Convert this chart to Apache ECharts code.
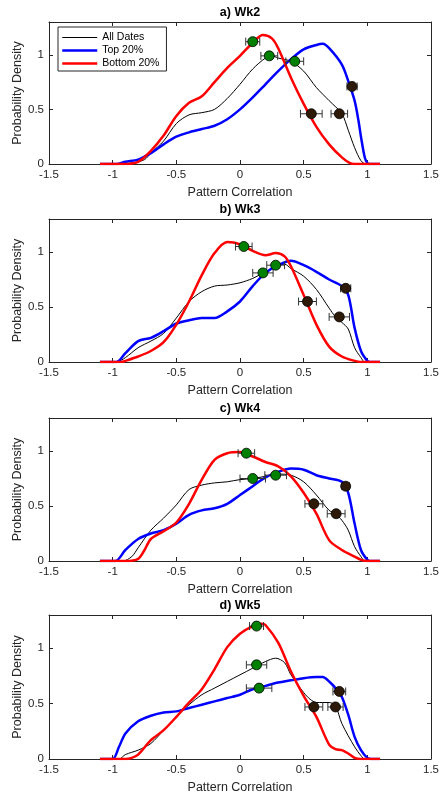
<!DOCTYPE html>
<html>
<head>
<meta charset="utf-8">
<script src="https://cdn.jsdelivr.net/npm/echarts@6/dist/echarts.min.js"></script>
<style>
html,body{margin:0;padding:0;background:#fff;}
#chart{width:441px;height:794px;}
</style>
</head>
<body>
<div id="chart"></div>
<script>
var titles = ['a) Wk2', 'b) Wk3', 'c) Wk4', 'd) Wk5'];
var names = ['All Dates', 'Top 20%', 'Bottom 20%'];

// density curves, [x, y]
var wk2All = [[-1.1,0],[-0.95,0],[-0.85,0.01],[-0.75,0.04],[-0.7,0.1],[-0.6,0.21],[-0.5,0.37],[-0.4,0.45],[-0.3,0.47],[-0.2,0.5],[-0.1,0.6],[0,0.73],[0.1,0.87],[0.2,0.97],[0.25,0.99],[0.3,0.97],[0.4,0.94],[0.5,0.85],[0.6,0.7],[0.7,0.58],[0.8,0.46],[0.85,0.31],[0.9,0.15],[0.95,0.03],[0.99,0],[1.1,0]];
var wk2Top = [[-1.1,0],[-0.97,0],[-0.9,0.02],[-0.8,0.04],[-0.7,0.1],[-0.6,0.18],[-0.5,0.25],[-0.4,0.29],[-0.3,0.32],[-0.2,0.35],[-0.1,0.41],[0,0.5],[0.1,0.61],[0.2,0.73],[0.3,0.85],[0.4,0.96],[0.5,1.05],[0.6,1.09],[0.65,1.1],[0.7,1.06],[0.8,0.91],[0.85,0.76],[0.9,0.58],[0.93,0.4],[0.95,0.25],[0.98,0.06],[1.0,0.01],[1.02,0],[1.1,0]];
var wk2Bot = [[-1.1,0],[-0.92,0],[-0.8,0.02],[-0.7,0.12],[-0.6,0.26],[-0.5,0.44],[-0.4,0.56],[-0.3,0.62],[-0.2,0.75],[-0.1,0.88],[0,0.99],[0.1,1.11],[0.18,1.18],[0.25,1.15],[0.3,1.06],[0.4,0.79],[0.5,0.55],[0.6,0.34],[0.7,0.18],[0.8,0.06],[0.86,0.01],[0.9,0],[1.1,0]];

var wk3All = [[-1.1,0],[-0.97,0],[-0.9,0.04],[-0.8,0.13],[-0.7,0.19],[-0.6,0.26],[-0.5,0.4],[-0.4,0.55],[-0.3,0.64],[-0.2,0.69],[-0.1,0.7],[0,0.72],[0.1,0.76],[0.2,0.82],[0.3,0.88],[0.35,0.89],[0.4,0.85],[0.5,0.78],[0.6,0.66],[0.7,0.49],[0.75,0.41],[0.8,0.36],[0.85,0.3],[0.9,0.13],[0.95,0.04],[0.98,0],[1.1,0]];
var wk3Top = [[-1.1,0],[-0.97,0],[-0.9,0.08],[-0.8,0.19],[-0.7,0.22],[-0.6,0.28],[-0.5,0.35],[-0.4,0.38],[-0.3,0.4],[-0.2,0.4],[-0.1,0.46],[0,0.55],[0.1,0.69],[0.2,0.81],[0.3,0.88],[0.4,0.92],[0.5,0.88],[0.6,0.82],[0.7,0.75],[0.8,0.69],[0.85,0.61],[0.9,0.31],[0.95,0.1],[1.0,0.01],[1.02,0],[1.1,0]];
var wk3Bot = [[-1.1,0],[-0.93,0],[-0.9,0.01],[-0.8,0.05],[-0.7,0.1],[-0.6,0.18],[-0.5,0.34],[-0.4,0.55],[-0.3,0.79],[-0.2,0.99],[-0.1,1.09],[0,1.07],[0.1,1.01],[0.2,0.97],[0.28,0.99],[0.35,0.96],[0.4,0.87],[0.5,0.61],[0.6,0.34],[0.7,0.14],[0.8,0.05],[0.9,0.01],[0.95,0],[1.1,0]];

var wk4All = [[-1.1,0],[-0.92,0],[-0.85,0.04],[-0.8,0.12],[-0.7,0.28],[-0.6,0.39],[-0.5,0.51],[-0.4,0.65],[-0.3,0.69],[-0.2,0.71],[-0.1,0.72],[0,0.74],[0.1,0.75],[0.2,0.77],[0.3,0.79],[0.4,0.78],[0.5,0.72],[0.6,0.6],[0.7,0.46],[0.75,0.43],[0.8,0.37],[0.85,0.28],[0.9,0.13],[0.95,0.04],[0.98,0],[1.1,0]];
var wk4Top = [[-1.1,0],[-0.98,0],[-0.9,0.1],[-0.8,0.2],[-0.7,0.25],[-0.6,0.28],[-0.5,0.34],[-0.4,0.42],[-0.3,0.46],[-0.2,0.48],[-0.1,0.52],[0,0.6],[0.1,0.68],[0.2,0.76],[0.3,0.81],[0.4,0.84],[0.5,0.83],[0.6,0.78],[0.7,0.75],[0.8,0.72],[0.85,0.62],[0.9,0.34],[0.95,0.1],[1.0,0.01],[1.02,0],[1.1,0]];
var wk4Bot = [[-1.1,0],[-0.9,0],[-0.8,0.02],[-0.75,0.1],[-0.7,0.2],[-0.6,0.27],[-0.5,0.35],[-0.4,0.52],[-0.3,0.74],[-0.2,0.92],[-0.1,0.98],[0,0.99],[0.1,0.95],[0.2,0.9],[0.3,0.86],[0.4,0.77],[0.5,0.62],[0.6,0.43],[0.7,0.19],[0.8,0.1],[0.9,0.04],[0.95,0.01],[1.0,0],[1.1,0]];

var wk5All = [[-1.1,0],[-0.95,0],[-0.9,0.04],[-0.8,0.08],[-0.7,0.14],[-0.6,0.26],[-0.5,0.38],[-0.4,0.49],[-0.3,0.58],[-0.2,0.64],[-0.1,0.7],[0,0.76],[0.1,0.82],[0.2,0.88],[0.28,0.91],[0.35,0.87],[0.4,0.76],[0.5,0.6],[0.55,0.54],[0.6,0.51],[0.7,0.51],[0.75,0.48],[0.8,0.32],[0.9,0.11],[0.95,0.03],[0.98,0],[1.1,0]];
var wk5Top = [[-1.1,0],[-1.0,0],[-0.95,0.11],[-0.9,0.23],[-0.8,0.34],[-0.7,0.39],[-0.6,0.42],[-0.5,0.43],[-0.4,0.46],[-0.3,0.49],[-0.2,0.52],[-0.1,0.55],[0,0.58],[0.1,0.63],[0.2,0.66],[0.3,0.69],[0.4,0.71],[0.5,0.73],[0.6,0.74],[0.65,0.74],[0.7,0.7],[0.75,0.64],[0.8,0.56],[0.85,0.4],[0.9,0.2],[0.95,0.08],[1.0,0.01],[1.03,0],[1.1,0]];
var wk5Bot = [[-1.1,0],[-0.9,0],[-0.85,0.01],[-0.8,0.04],[-0.7,0.17],[-0.6,0.26],[-0.5,0.38],[-0.4,0.51],[-0.3,0.63],[-0.2,0.81],[-0.1,1.01],[0,1.13],[0.1,1.2],[0.17,1.22],[0.2,1.21],[0.3,1.05],[0.4,0.79],[0.5,0.57],[0.6,0.38],[0.7,0.13],[0.75,0.09],[0.8,0.08],[0.85,0.05],[0.9,0.01],[0.95,0],[1.1,0]];

// mean markers [x, y] and half-width of error bars
var wk2Green = [[0.1,1.12],[0.23,0.99],[0.43,0.94]];
var wk2GreenErr = [0.055,0.066,0.07];
var wk2Brown = [[0.56,0.46],[0.78,0.46],[0.88,0.71]];
var wk2BrownErr = [0.085,0.065,0.04];

var wk3Green = [[0.03,1.05],[0.18,0.81],[0.28,0.88]];
var wk3GreenErr = [0.065,0.08,0.07];
var wk3Brown = [[0.53,0.55],[0.78,0.41],[0.83,0.67]];
var wk3BrownErr = [0.07,0.08,0.04];

var wk4Green = [[0.05,0.98],[0.1,0.75],[0.28,0.78]];
var wk4GreenErr = [0.065,0.1,0.085];
var wk4Brown = [[0.58,0.52],[0.755,0.43],[0.83,0.68]];
var wk4BrownErr = [0.07,0.07,0.03];

var wk5Green = [[0.13,1.2],[0.13,0.85],[0.15,0.64]];
var wk5GreenErr = [0.055,0.08,0.1];
var wk5Brown = [[0.58,0.47],[0.75,0.47],[0.78,0.61]];
var wk5BrownErr = [0.07,0.06,0.05];

var panels = [
    {all: wk2All, top: wk2Top, bot: wk2Bot, green: wk2Green, greenErr: wk2GreenErr, brown: wk2Brown, brownErr: wk2BrownErr},
    {all: wk3All, top: wk3Top, bot: wk3Bot, green: wk3Green, greenErr: wk3GreenErr, brown: wk3Brown, brownErr: wk3BrownErr},
    {all: wk4All, top: wk4Top, bot: wk4Bot, green: wk4Green, greenErr: wk4GreenErr, brown: wk4Brown, brownErr: wk4BrownErr},
    {all: wk5All, top: wk5Top, bot: wk5Bot, green: wk5Green, greenErr: wk5GreenErr, brown: wk5Brown, brownErr: wk5BrownErr}
];

var gridTop = [22, 219, 418, 615];
var gridH = [142, 143, 143, 144];
var lineCols = ['#000000', '#0000ff', '#ff0000'];
var lineW = [1, 2.5, 2.5];
var axisCol = '#262626';
var font = '"Liberation Sans", Arial, Helvetica, sans-serif';

function errBar(params, api) {
    var x = api.value(0), y = api.value(1), e = api.value(2);
    var a = api.coord([x - e, y]);
    var b = api.coord([x + e, y]);
    var h = 4;
    var st = {stroke: '#333', lineWidth: 1};
    return {
        type: 'group',
        children: [
            {type: 'line', shape: {x1: a[0], y1: a[1], x2: b[0], y2: b[1]}, style: st},
            {type: 'line', shape: {x1: a[0], y1: a[1] - h, x2: a[0], y2: a[1] + h}, style: st},
            {type: 'line', shape: {x1: b[0], y1: b[1] - h, x2: b[0], y2: b[1] + h}, style: st}
        ]
    };
}

function withErr(pts, errs) {
    return pts.map(function (p, i) { return [p[0], p[1], errs[i]]; });
}

var option = {
    animation: false,
    backgroundColor: '#fff',
    textStyle: {fontFamily: font},
    title: [],
    grid: [],
    xAxis: [],
    yAxis: [],
    series: [],
    legend: {
        data: names.map(function (n, k) {
            return {name: n, lineStyle: {width: lineW[k], color: lineCols[k]}};
        }),
        orient: 'vertical',
        left: 58,
        top: 27,
        backgroundColor: '#fff',
        borderColor: axisCol,
        borderWidth: 1,
        borderRadius: 0,
        padding: [5, 7, 2, 3],
        itemWidth: 35,
        itemHeight: 11,
        itemGap: 2,
        selectedMode: false,
        itemStyle: {opacity: 0, borderWidth: 0},
        textStyle: {fontSize: 10.5, color: '#000', fontFamily: font}
    }
};

panels.forEach(function (p, i) {
    option.title.push({
        text: titles[i],
        left: 240,
        top: gridTop[i] - 16,
        textAlign: 'center',
        padding: 0,
        textStyle: {fontSize: 12.5, fontWeight: 'bold', color: '#000', fontFamily: font}
    });
    option.grid.push({left: 49, right: 10, top: gridTop[i], height: gridH[i], outerBoundsMode: 'none'});

    option.xAxis.push({
        type: 'value', gridIndex: i, min: -1.5, max: 1.5, interval: 0.5,
        name: 'Pattern Correlation', nameLocation: 'middle', nameGap: 22, nameMoveOverlap: false,
        nameTextStyle: {fontSize: 12.5, color: axisCol, fontFamily: font},
        axisLine: {onZero: false, lineStyle: {color: axisCol, width: 1}},
        axisTick: {inside: true, length: 4, lineStyle: {color: axisCol}},
        axisLabel: {fontSize: 11.5, color: axisCol, margin: 5, fontFamily: font},
        splitLine: {show: false}
    });
    option.xAxis.push({
        type: 'value', gridIndex: i, position: 'top', min: -1.5, max: 1.5, interval: 0.5,
        axisLine: {onZero: false, lineStyle: {color: axisCol, width: 1}},
        axisTick: {inside: true, length: 4, lineStyle: {color: axisCol}},
        axisLabel: {show: false},
        splitLine: {show: false}
    });
    option.yAxis.push({
        type: 'value', gridIndex: i, min: 0, max: 1.3, interval: 0.5,
        name: 'Probability Density', nameLocation: 'middle', nameGap: 25, nameMoveOverlap: false,
        nameTextStyle: {fontSize: 12.5, color: axisCol, fontFamily: font},
        axisLine: {show: true, onZero: false, lineStyle: {color: axisCol, width: 1}},
        axisTick: {inside: true, length: 4, lineStyle: {color: axisCol}},
        axisLabel: {fontSize: 11.5, color: axisCol, margin: 5, showMaxLabel: false, fontFamily: font},
        splitLine: {show: false}
    });
    option.yAxis.push({
        type: 'value', gridIndex: i, position: 'right', min: 0, max: 1.3, interval: 0.5,
        axisLine: {show: true, onZero: false, lineStyle: {color: axisCol, width: 1}},
        axisTick: {inside: true, length: 4, lineStyle: {color: axisCol}},
        axisLabel: {show: false},
        splitLine: {show: false}
    });

    var xi = 2 * i, yi = 2 * i;
    [p.all, p.top, p.bot].forEach(function (d, k) {
        option.series.push({
            name: names[k], type: 'line', xAxisIndex: xi, yAxisIndex: yi,
            data: d, smooth: 0.3, symbol: 'none', z: 2,
            lineStyle: {color: lineCols[k], width: lineW[k]}, itemStyle: {color: lineCols[k]}
        });
    });
    option.series.push({
        type: 'custom', xAxisIndex: xi, yAxisIndex: yi, z: 3,
        renderItem: errBar, encode: {x: 0, y: 1},
        data: withErr(p.green, p.greenErr).concat(withErr(p.brown, p.brownErr))
    });
    option.series.push({
        type: 'scatter', xAxisIndex: xi, yAxisIndex: yi, z: 4,
        data: p.green, symbolSize: 10,
        itemStyle: {color: '#008000', borderColor: '#000', borderWidth: 0.8, opacity: 1}
    });
    option.series.push({
        type: 'scatter', xAxisIndex: xi, yAxisIndex: yi, z: 4,
        data: p.brown, symbolSize: 10,
        itemStyle: {color: '#2e1a08', borderColor: '#000', borderWidth: 0.8, opacity: 1}
    });
});

var myChart = echarts.init(document.getElementById('chart'));
myChart.setOption(option);
</script>
</body>
</html>
